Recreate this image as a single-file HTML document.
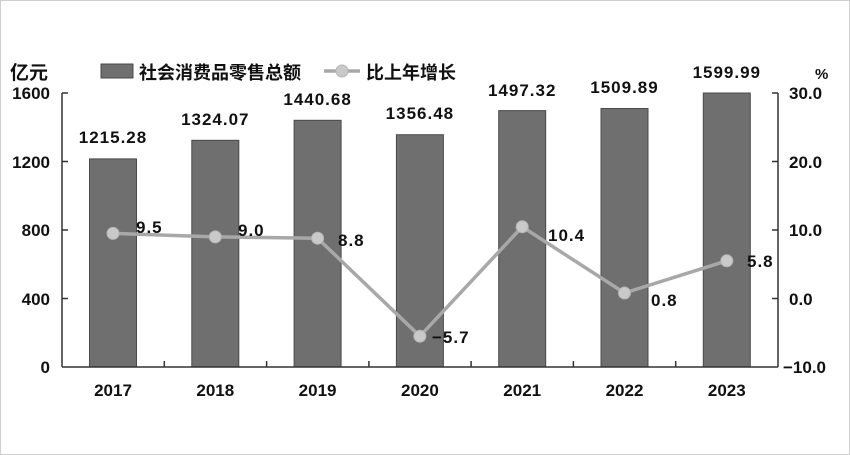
<!DOCTYPE html>
<html><head><meta charset="utf-8"><style>
html,body{margin:0;padding:0;background:#fff}
svg{display:block}
text{font-family:"Liberation Sans","Noto Sans CJK SC",sans-serif;fill:#111}
</style></head><body>
<svg width="850" height="455" viewBox="0 0 850 455">
<rect x="0.5" y="0.5" width="849" height="454" fill="#fff" stroke="#cfcfcf"/>
<!-- bars -->
<g fill="#6f6f6f" stroke="#4a4a4a" stroke-width="1">
<rect x="89.5" y="158.9" width="47" height="208.1"/>
<rect x="191.8" y="140.3" width="47" height="226.7"/>
<rect x="294.1" y="120.3" width="47" height="246.7"/>
<rect x="396.4" y="134.7" width="47" height="232.3"/>
<rect x="498.7" y="110.6" width="47" height="256.4"/>
<rect x="601" y="108.5" width="47" height="258.5"/>
<rect x="703.3" y="93" width="47" height="274"/>
</g>
<!-- axes -->
<g stroke="#333" stroke-width="1.5" fill="none">
<line x1="62" y1="93" x2="62" y2="367"/>
<line x1="778" y1="93" x2="778" y2="367"/>
<line x1="62" y1="367" x2="778" y2="367"/>
<line x1="62" y1="93" x2="68" y2="93"/><line x1="62" y1="161.5" x2="68" y2="161.5"/><line x1="62" y1="230" x2="68" y2="230"/><line x1="62" y1="298.5" x2="68" y2="298.5"/>
<line x1="772" y1="93" x2="778" y2="93"/><line x1="772" y1="161.5" x2="778" y2="161.5"/><line x1="772" y1="230" x2="778" y2="230"/><line x1="772" y1="298.5" x2="778" y2="298.5"/>
<line x1="164.3" y1="361" x2="164.3" y2="367"/><line x1="266.6" y1="361" x2="266.6" y2="367"/><line x1="368.9" y1="361" x2="368.9" y2="367"/><line x1="471.1" y1="361" x2="471.1" y2="367"/><line x1="573.4" y1="361" x2="573.4" y2="367"/><line x1="675.7" y1="361" x2="675.7" y2="367"/>
</g>
<!-- line -->
<polyline points="113,233.4 215.3,236.9 317.6,238.2 419.9,336.2 522.2,226.8 624.5,293.0 726.8,260.8" fill="none" stroke="#a8a8a8" stroke-width="3.5"/>
<g fill="#c9c9c9" stroke="#b5b5b5" stroke-width="1">
<circle cx="113" cy="233.4" r="6"/><circle cx="215.3" cy="236.9" r="6"/><circle cx="317.6" cy="238.2" r="6"/><circle cx="419.9" cy="336.2" r="6"/><circle cx="522.2" cy="226.8" r="6"/><circle cx="624.5" cy="293.0" r="6"/><circle cx="726.8" cy="260.8" r="6"/>
</g>
<!-- left labels -->
<g font-size="17" font-weight="bold" text-anchor="end">
<text x="50" y="99">1600</text><text x="50" y="168">1200</text><text x="50" y="236">800</text><text x="50" y="305">400</text><text x="50" y="373">0</text>
</g>
<g font-size="17" font-weight="bold" text-anchor="start">
<text x="789" y="99">30.0</text><text x="789" y="168">20.0</text><text x="789" y="236">10.0</text><text x="789" y="305">0.0</text><text x="783" y="373">−10.0</text>
</g>
<text x="10" y="79" font-size="19" font-weight="bold">亿元</text>
<text x="815" y="79" font-size="15" font-weight="bold">%</text>
<!-- x labels -->
<g font-size="17" font-weight="bold" text-anchor="middle">
<text x="113" y="396">2017</text><text x="215.3" y="396">2018</text><text x="317.6" y="396">2019</text><text x="419.9" y="396">2020</text><text x="522.2" y="396">2021</text><text x="624.5" y="396">2022</text><text x="726.8" y="396">2023</text>
</g>
<!-- bar labels -->
<g font-size="17" font-weight="bold" text-anchor="middle" letter-spacing="1">
<text x="113" y="143">1215.28</text><text x="215.3" y="125">1324.07</text><text x="317.6" y="105">1440.68</text><text x="419.9" y="119">1356.48</text><text x="522.2" y="96">1497.32</text><text x="624.5" y="93">1509.89</text><text x="726.8" y="78">1599.99</text>
</g>
<!-- line labels -->
<g font-size="17" font-weight="bold" letter-spacing="1">
<text x="136" y="233">9.5</text><text x="238" y="236">9.0</text><text x="338" y="246">8.8</text><text x="432" y="343">−5.7</text><text x="548" y="241">10.4</text><text x="651" y="306">0.8</text><text x="747" y="267">5.8</text>
</g>
<!-- legend -->
<rect x="101" y="64" width="32" height="14" fill="#6f6f6f" stroke="#4a4a4a"/>
<text x="139" y="79" font-size="18" font-weight="bold">社会消费品零售总额</text>
<line x1="324" y1="71" x2="360" y2="71" stroke="#a8a8a8" stroke-width="3.5"/>
<circle cx="342" cy="71" r="6" fill="#c9c9c9" stroke="#b5b5b5"/>
<text x="366" y="79" font-size="18" font-weight="bold">比上年增长</text>
</svg>
</body></html>
